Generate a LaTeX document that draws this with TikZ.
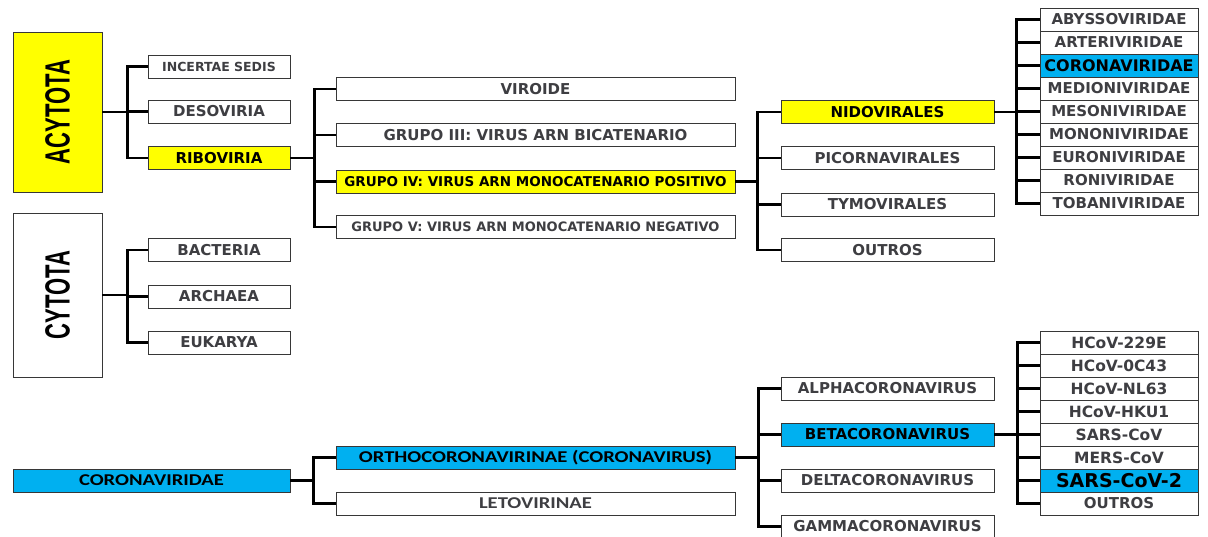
\documentclass[tikz,border=0pt]{standalone}
\usepackage{fontspec}
\usepackage{graphicx}
\setmainfont{DejaVu Sans}
\newfontfamily\rootfont{Liberation Sans}
\newfontfamily\narrowfont{Carlito}
\usetikzlibrary{positioning, calc}
\definecolor{hlyellow}{RGB}{255,255,0}
\definecolor{hlblue}{RGB}{0,176,240}
\definecolor{txtgray}{RGB}{62,62,66}
\definecolor{boxline}{RGB}{55,55,55}
\newcommand{\fsize}[1]{\fontsize{#1}{#1}\selectfont}
% vertical, condensed label for the two domain boxes
\newcommand{\vlabel}[1]{\rotatebox{90}{\scalebox{0.63}[1]{#1}}}
% stretched label for the narrow font of the subfamily row
\newcommand{\wide}[1]{\scalebox{1.25}[1]{#1}}
\tikzset{
    % plain taxon box, white with grey text
    taxon/.style={draw=boxline, line width=0.8pt, fill=white, text=txtgray,
        font=\bfseries\fsize{15}, minimum height=23pt, inner sep=0pt},
    % one style per column of the tree
    rootbox/.style={taxon, minimum width=89pt, text=black,
        font=\rootfont\bfseries\fsize{35}},
    kingdom/.style={taxon, minimum width=142pt},
    group/.style={taxon, minimum width=399pt},
    order/.style={taxon, minimum width=213pt},
    family/.style={taxon, minimum width=158pt},
    % highlighted boxes
    hly/.style={fill=hlyellow, text=black},
    hlb/.style={fill=hlblue, text=black},
    % narrow font used in the bottom tree
    sub/.style={font=\narrowfont\bfseries\fsize{16.5}},
    % elbow connectors
    branch/.style={line width=2.4pt},
}

\begin{document}
\begin{tikzpicture}[x=1pt, y=-1pt]

    \useasboundingbox (0,0) rectangle (1208,537);

    % --- domains ---
    \node[rootbox, hly, minimum height=160pt] (acy) at (57.5,112) {\vlabel{ACYTOTA}};
    \node[rootbox, minimum height=164pt]      (cyt) at (57.5,295) {\vlabel{CYTOTA}};

    % --- kingdoms / realms ---
    \node[kingdom, font=\bfseries\fsize{12.5}] (inc) at (219,66.5) {INCERTAE SEDIS};
    \node[kingdom]      (des) at (219,111.5) {DESOVIRIA};
    \node[kingdom, hly] (rib) at (219,158)   {RIBOVIRIA};
    \node[kingdom]      (bac) at (219,250)   {BACTERIA};
    \node[kingdom]      (arc) at (219,296.5) {ARCHAEA};
    \node[kingdom]      (euk) at (219,342.5) {EUKARYA};

    \foreach \c in {inc,des,rib}
        \draw[branch] (acy.east) -- ++(25,0) |- (\c.west);
    \foreach \c in {bac,arc,euk}
        \draw[branch] (cyt.east) -- ++(25,0) |- (\c.west);

    % --- groups ---
    \node[group] (vir) at (535.5,89)  {VIROIDE};
    \node[group] (g3)  at (535.5,135) {GRUPO III: VIRUS ARN BICATENARIO};
    \node[group, hly, font=\bfseries\fsize{13.5}] (g4) at (535.5,181.5)
        {GRUPO IV: VIRUS ARN MONOCATENARIO POSITIVO};
    \node[group, font=\bfseries\fsize{13}] (g5) at (535.5,227)
        {GRUPO V: VIRUS ARN MONOCATENARIO NEGATIVO};

    \foreach \c in {vir,g3,g4,g5}
        \draw[branch] (rib.east) -- ++(24,0) |- (\c.west);

    % --- orders ---
    \node[order, hly] (nid) at (887.5,112)   {NIDOVIRALES};
    \node[order]      (pic) at (887.5,158)   {PICORNAVIRALES};
    \node[order]      (tym) at (887.5,204.5) {TYMOVIRALES};
    \node[order]      (otr) at (887.5,250)   {OUTROS};

    \foreach \c in {nid,pic,tym,otr}
        \draw[branch] (g4.east) -- ++(22,0) |- (\c.west);

    % --- families of Nidovirales ---
    \node[family] (aby) at (1119,19.5)  {ABYSSOVIRIDAE};
    \node[family] (art) at (1119,42.5)  {ARTERIVIRIDAE};
    \node[family, hlb, font=\bfseries\fsize{16}] (cor) at (1119,65.5) {CORONAVIRIDAE};
    \node[family] (med) at (1119,88.5)  {MEDIONIVIRIDAE};
    \node[family] (mes) at (1119,111.5) {MESONIVIRIDAE};
    \node[family] (mon) at (1119,134.5) {MONONIVIRIDAE};
    \node[family] (eur) at (1119,157.5) {EURONIVIRIDAE};
    \node[family] (ron) at (1119,180.5) {RONIVIRIDAE};
    \node[family] (tob) at (1119,203.5) {TOBANIVIRIDAE};

    \foreach \c in {aby,art,cor,med,mes,mon,eur,ron,tob}
        \draw[branch] (nid.east) -- ++(22,0) |- (\c.west);

    % --- Coronaviridae tree ---
    \node[taxon, hlb, sub, minimum width=277pt] (crv) at (151.5,480.5)
        {\wide{CORONAVIRIDAE}};
    \node[group, hlb, sub] (ort) at (535.5,457.5)
        {\wide{ORTHOCORONAVIRINAE (CORONAVIRUS)}};
    \node[group, sub] (let) at (535.5,503.5) {\wide{LETOVIRINAE}};

    \foreach \c in {ort,let}
        \draw[branch] (crv.east) -- ++(23,0) |- (\c.west);

    % genera
    \node[order]      (alp) at (887.5,388.5) {ALPHACORONAVIRUS};
    \node[order, hlb] (bet) at (887.5,434.5) {BETACORONAVIRUS};
    \node[order]      (del) at (887.5,480.5) {DELTACORONAVIRUS};
    \node[order]      (gam) at (887.5,526.5) {GAMMACORONAVIRUS};

    \foreach \c in {alp,bet,del,gam}
        \draw[branch] (ort.east) -- ++(23,0) |- (\c.west);

    % species of Betacoronavirus
    \node[family, font=\bfseries\fsize{15.5}] (s1) at (1119,342.5) {HCoV-229E};
    \node[family, font=\bfseries\fsize{15.5}] (s2) at (1119,365.5) {HCoV-0C43};
    \node[family, font=\bfseries\fsize{15.5}] (s3) at (1119,388.5) {HCoV-NL63};
    \node[family, font=\bfseries\fsize{15.5}] (s4) at (1119,411.5) {HCoV-HKU1};
    \node[family, font=\bfseries\fsize{15.5}] (s5) at (1119,434.5) {SARS-CoV};
    \node[family, font=\bfseries\fsize{15.5}] (s6) at (1119,457.5) {MERS-CoV};
    \node[family, hlb, font=\bfseries\fsize{19}] (s7) at (1119,480.5) {SARS-CoV-2};
    \node[family] (s8) at (1119,503.5) {OUTROS};

    \foreach \c in {s1,s2,s3,s4,s5,s6,s7,s8}
        \draw[branch] (bet.east) -- ++(23,0) |- (\c.west);

\end{tikzpicture}
\end{document}
